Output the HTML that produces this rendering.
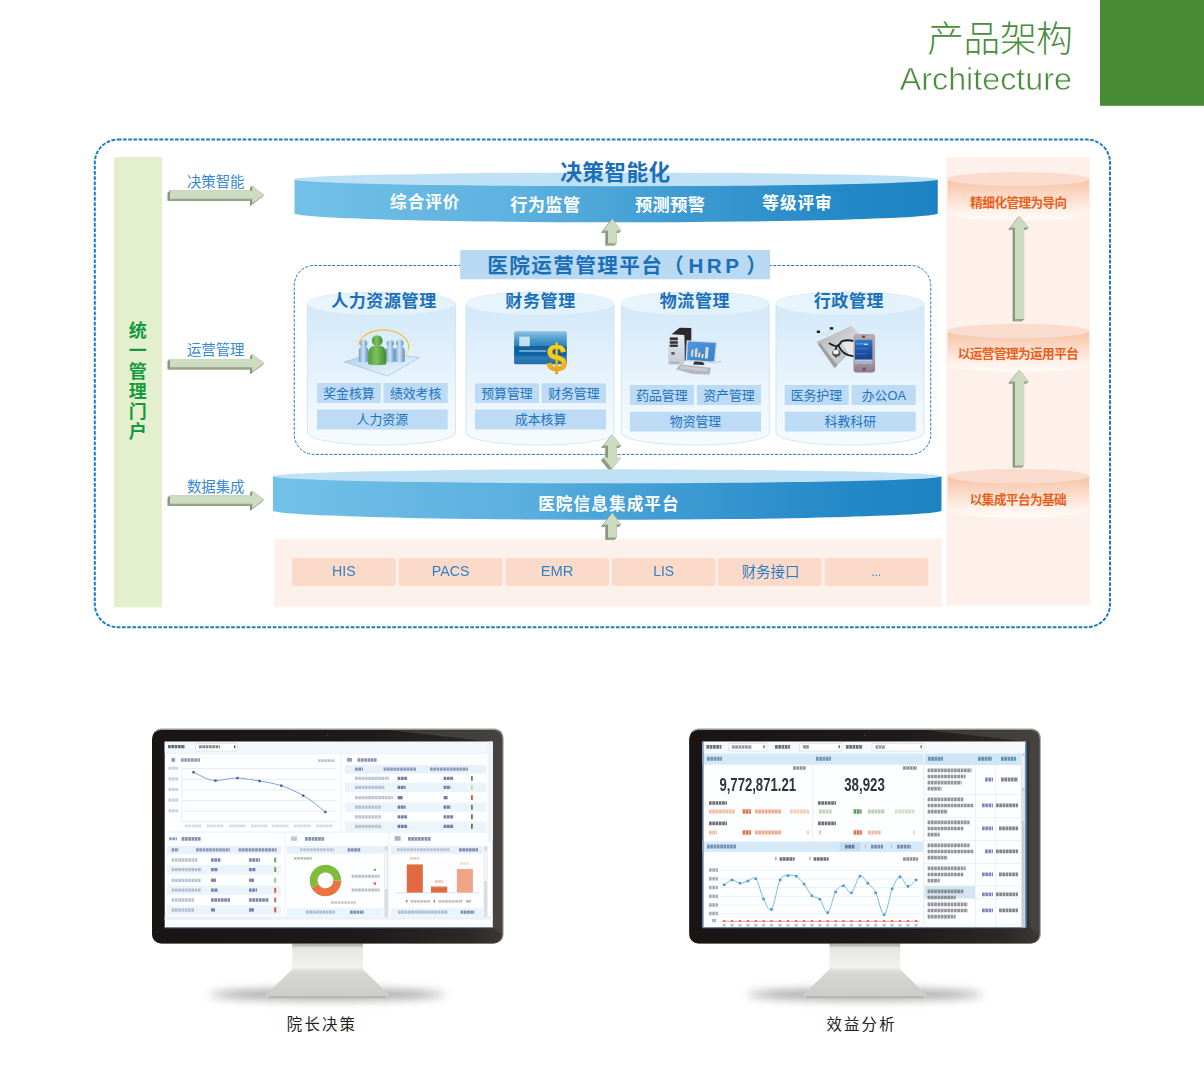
<!DOCTYPE html>
<html lang="zh"><head><meta charset="utf-8"><title>产品架构 Architecture</title>
<style>
html,body{margin:0;padding:0;background:#fff}
body{width:1204px;height:1068px;overflow:hidden;position:relative;font-family:"Liberation Sans",sans-serif}
svg{display:block;position:absolute;left:0;top:0}
svg text.cjk{font-family:"Liberation Sans","Noto Sans CJK SC",sans-serif}
.ov span{position:absolute;color:transparent;white-space:nowrap;line-height:1.2;font-family:"Liberation Sans",sans-serif;pointer-events:none}
</style></head><body>
<svg width="1204" height="1068" viewBox="0 0 1204 1068">
<defs>

<linearGradient id="disc" x1="0" x2="1" y1="0" y2="0">
 <stop offset="0" stop-color="#72c1e8"/><stop offset="0.35" stop-color="#5db1df"/><stop offset="0.6" stop-color="#3d9bd2"/><stop offset="0.85" stop-color="#2489c7"/><stop offset="1" stop-color="#1d82c2"/>
</linearGradient>
<linearGradient id="cyl" x1="0" x2="0" y1="0" y2="1">
 <stop offset="0" stop-color="#d3e9f9"/><stop offset="0.1" stop-color="#d3e9f9"/><stop offset="0.45" stop-color="#e3f1fc"/><stop offset="0.75" stop-color="#eff7fd"/><stop offset="1" stop-color="#f6fbfe"/>
</linearGradient>
<linearGradient id="cyltop" x1="0" x2="1" y1="0" y2="0">
 <stop offset="0" stop-color="#ebf6fd"/><stop offset="0.5" stop-color="#e0f1fb"/><stop offset="1" stop-color="#e6f3fc"/>
</linearGradient>
<linearGradient id="ocyl" x1="0" x2="0" y1="0" y2="1">
 <stop offset="0" stop-color="#f7c2a2"/><stop offset="0.4" stop-color="#fbdac8"/><stop offset="0.8" stop-color="#fff3ec"/><stop offset="1" stop-color="#fffbf9"/>
</linearGradient>
<linearGradient id="arr" x1="0" x2="0" y1="0" y2="1">
 <stop offset="0" stop-color="#d9e4cf"/><stop offset="0.5" stop-color="#cddbc0"/><stop offset="1" stop-color="#c3d3b5"/>
</linearGradient>
<linearGradient id="arrv" x1="0" x2="1" y1="0" y2="0">
 <stop offset="0" stop-color="#c3d3b5"/><stop offset="0.5" stop-color="#cfdcc2"/><stop offset="1" stop-color="#d6e2cb"/>
</linearGradient>


<linearGradient id="tile" x1="0" x2="1" y1="0" y2="1"><stop offset="0" stop-color="#a9cdea"/><stop offset="0.6" stop-color="#d9ebf8"/><stop offset="1" stop-color="#eef6fc"/></linearGradient>
<linearGradient id="pgreen" x1="0" x2="1" y1="0" y2="0"><stop offset="0" stop-color="#4e9a3a"/><stop offset="0.45" stop-color="#7cc35c"/><stop offset="1" stop-color="#3f8a30"/></linearGradient>
<linearGradient id="pblue" x1="0" x2="1" y1="0" y2="0"><stop offset="0" stop-color="#6f9dc8"/><stop offset="0.45" stop-color="#cfe3f4"/><stop offset="1" stop-color="#5f8fbd"/></linearGradient>
<linearGradient id="card" x1="0" x2="0" y1="0" y2="1"><stop offset="0" stop-color="#8cc3e2"/><stop offset="0.25" stop-color="#4c9bcc"/><stop offset="0.44" stop-color="#2d84bd"/><stop offset="0.46" stop-color="#0f639f"/><stop offset="0.72" stop-color="#0f649f"/><stop offset="0.78" stop-color="#2a7db8"/><stop offset="1" stop-color="#256fa9"/></linearGradient>
<linearGradient id="dollar" x1="0" x2="0" y1="0" y2="1"><stop offset="0" stop-color="#f7e022"/><stop offset="0.55" stop-color="#f5c81c"/><stop offset="1" stop-color="#e58a1c"/></linearGradient>
<linearGradient id="tower" x1="0" x2="0" y1="0" y2="1"><stop offset="0" stop-color="#e6e9ee"/><stop offset="1" stop-color="#c4c9d2"/></linearGradient>
<linearGradient id="scr" x1="0" x2="1" y1="0" y2="1"><stop offset="0" stop-color="#4f98df"/><stop offset="1" stop-color="#3380cf"/></linearGradient>
<linearGradient id="clip" x1="0" x2="1" y1="0" y2="1"><stop offset="0" stop-color="#a9abae"/><stop offset="0.5" stop-color="#d2d3d5"/><stop offset="1" stop-color="#9c9ea1"/></linearGradient>
<linearGradient id="pda" x1="0" x2="0" y1="0" y2="1"><stop offset="0" stop-color="#b9a9b0"/><stop offset="0.7" stop-color="#a99aa2"/><stop offset="1" stop-color="#8c7d86"/></linearGradient>
<linearGradient id="pdas" x1="0" x2="0" y1="0" y2="1"><stop offset="0" stop-color="#2d78c8"/><stop offset="0.5" stop-color="#1f55aa"/><stop offset="1" stop-color="#1a3f8c"/></linearGradient>
<filter id="b03" x="-20%" y="-20%" width="140%" height="140%"><feGaussianBlur stdDeviation="0.35"/></filter>
<filter id="b06" x="-20%" y="-20%" width="140%" height="140%"><feGaussianBlur stdDeviation="0.6"/></filter>
<filter id="b5" x="-30%" y="-100%" width="160%" height="300%"><feGaussianBlur stdDeviation="5"/></filter>

<linearGradient id="bezel" x1="0" x2="1" y1="0" y2="0"><stop offset="0" stop-color="#181514"/><stop offset="0.6" stop-color="#1d1a19"/><stop offset="0.9" stop-color="#2b2826"/><stop offset="1" stop-color="#3b3836"/></linearGradient>
<linearGradient id="stand" x1="0" x2="0" y1="0" y2="1"><stop offset="0" stop-color="#c9c9c6"/><stop offset="0.12" stop-color="#e6e6e3"/><stop offset="0.45" stop-color="#f1f1ee"/><stop offset="0.5" stop-color="#dededa"/><stop offset="1" stop-color="#d2d2ce"/></linearGradient>
<linearGradient id="base" x1="0" x2="0" y1="0" y2="1"><stop offset="0" stop-color="#e0e0dc"/><stop offset="0.15" stop-color="#d6d6d2"/><stop offset="1" stop-color="#cbcbc7"/></linearGradient>

</defs>
<rect x="1100" y="0" width="104" height="105.8" fill="#478b37"/>
<text class="cjk" x="927.14" y="52.42" font-size="36.6" letter-spacing="-0.18" font-weight="300" fill="#4a8d3c">产品架构</text>
<text x="1071.9" y="90.2" font-size="32.25" opacity="0.999" text-anchor="end" stroke="#fff" stroke-width="0.55" fill="#4a8d3c" font-family="Liberation Sans, sans-serif">Architecture</text>
<rect x="94.8" y="139.6" width="1015.2" height="487.6" rx="23" fill="none" stroke="#1c7cc4" stroke-width="2" stroke-dasharray="3.7 1.5"/>
<rect x="114" y="157" width="48" height="450.3" fill="#e4efcd"/>
<text class="cjk" x="128.70" y="337.26" font-size="18" font-weight="bold" fill="#139a40">统</text>
<text class="cjk" x="128.70" y="357.46" font-size="18" font-weight="bold" fill="#139a40">一</text>
<text class="cjk" x="128.70" y="377.66" font-size="18" font-weight="bold" fill="#139a40">管</text>
<text class="cjk" x="128.70" y="397.86" font-size="18" font-weight="bold" fill="#139a40">理</text>
<text class="cjk" x="128.70" y="418.06" font-size="18" font-weight="bold" fill="#139a40">门</text>
<text class="cjk" x="128.70" y="438.26" font-size="18" font-weight="bold" fill="#139a40">户</text>
<polygon points="167.70,192.90 250.00,192.90 250.00,188.10 262.00,197.00 250.00,205.90 250.00,201.10 167.70,201.10" fill="#8f9d82"/><polygon points="169.90,190.60 252.20,190.60 250.00,192.90 167.70,192.90" fill="#97a58a"/><polygon points="252.20,190.60 252.20,185.80 250.00,188.10 250.00,192.90" fill="#87937a"/><polygon points="252.20,185.80 264.20,194.70 262.00,197.00 250.00,188.10" fill="#8f9d82"/><polygon points="264.20,194.70 252.20,203.60 250.00,205.90 262.00,197.00" fill="#8f9d82"/><polygon points="252.20,203.60 252.20,198.80 250.00,201.10 250.00,205.90" fill="#87937a"/><polygon points="252.20,198.80 169.90,198.80 167.70,201.10 250.00,201.10" fill="#97a58a"/><polygon points="169.90,198.80 169.90,190.60 167.70,192.90 167.70,201.10" fill="#87937a"/><polygon points="169.90,190.60 252.20,190.60 252.20,185.80 264.20,194.70 252.20,203.60 252.20,198.80 169.90,198.80" fill="#cddcc0"/>
<text class="cjk" x="186.89" y="186.62" font-size="14.4" fill="#3489cf">决策智能</text>
<polygon points="167.70,361.30 250.00,361.30 250.00,356.50 262.00,365.40 250.00,374.30 250.00,369.50 167.70,369.50" fill="#8f9d82"/><polygon points="169.90,359.00 252.20,359.00 250.00,361.30 167.70,361.30" fill="#97a58a"/><polygon points="252.20,359.00 252.20,354.20 250.00,356.50 250.00,361.30" fill="#87937a"/><polygon points="252.20,354.20 264.20,363.10 262.00,365.40 250.00,356.50" fill="#8f9d82"/><polygon points="264.20,363.10 252.20,372.00 250.00,374.30 262.00,365.40" fill="#8f9d82"/><polygon points="252.20,372.00 252.20,367.20 250.00,369.50 250.00,374.30" fill="#87937a"/><polygon points="252.20,367.20 169.90,367.20 167.70,369.50 250.00,369.50" fill="#97a58a"/><polygon points="169.90,367.20 169.90,359.00 167.70,361.30 167.70,369.50" fill="#87937a"/><polygon points="169.90,359.00 252.20,359.00 252.20,354.20 264.20,363.10 252.20,372.00 252.20,367.20 169.90,367.20" fill="#cddcc0"/>
<text class="cjk" x="186.89" y="355.02" font-size="14.4" fill="#3489cf">运营管理</text>
<polygon points="167.70,497.80 250.00,497.80 250.00,493.00 262.00,501.90 250.00,510.80 250.00,506.00 167.70,506.00" fill="#8f9d82"/><polygon points="169.90,495.50 252.20,495.50 250.00,497.80 167.70,497.80" fill="#97a58a"/><polygon points="252.20,495.50 252.20,490.70 250.00,493.00 250.00,497.80" fill="#87937a"/><polygon points="252.20,490.70 264.20,499.60 262.00,501.90 250.00,493.00" fill="#8f9d82"/><polygon points="264.20,499.60 252.20,508.50 250.00,510.80 262.00,501.90" fill="#8f9d82"/><polygon points="252.20,508.50 252.20,503.70 250.00,506.00 250.00,510.80" fill="#87937a"/><polygon points="252.20,503.70 169.90,503.70 167.70,506.00 250.00,506.00" fill="#97a58a"/><polygon points="169.90,503.70 169.90,495.50 167.70,497.80 167.70,506.00" fill="#87937a"/><polygon points="169.90,495.50 252.20,495.50 252.20,490.70 264.20,499.60 252.20,508.50 252.20,503.70 169.90,503.70" fill="#cddcc0"/>
<text class="cjk" x="186.93" y="491.52" font-size="14.4" fill="#3489cf">数据集成</text>
<rect x="946" y="157" width="144.3" height="448.6" fill="#fef1eb"/>
<rect x="274.3" y="539" width="667.7" height="67.8" fill="#fef1eb"/>
<path d="M294.50,179.40 L294.50,213.20 A321.62,9.10 0 0 0 937.75,213.20 L937.75,179.40 Z" fill="url(#disc)"/>
<ellipse cx="616.12" cy="179.40" rx="321.62" ry="6.80" fill="#bee1f5"/>
<text class="cjk" x="560.14" y="180.27" font-size="21.6" letter-spacing="0.5" font-weight="bold" fill="#1b6fb9">决策智能化</text>
<text class="cjk" x="390.09" y="208.16" font-size="16.6" letter-spacing="1" font-weight="bold" fill="#fff">综合评价</text>
<text class="cjk" x="510.18" y="210.79" font-size="17.2" letter-spacing="0.4" font-weight="bold" fill="#fff">行为监管</text>
<text class="cjk" x="634.99" y="210.79" font-size="17.2" letter-spacing="0.4" font-weight="bold" fill="#fff">预测预警</text>
<text class="cjk" x="762.35" y="208.56" font-size="16.6" letter-spacing="1" font-weight="bold" fill="#fff">等级评审</text>
<rect x="294.25" y="265.5" width="636.5" height="188.9" rx="20" fill="none" stroke="#1c7cc4" stroke-width="1" stroke-dasharray="3 1.5"/>
<polygon points="609.90,221.30 618.80,232.90 614.25,232.90 614.25,245.60 605.55,245.60 605.55,232.90 601.00,232.90" fill="#8f9d82"/><polygon points="612.30,218.90 621.20,230.50 618.80,232.90 609.90,221.30" fill="#8f9d82"/><polygon points="621.20,230.50 616.65,230.50 614.25,232.90 618.80,232.90" fill="#97a58a"/><polygon points="616.65,230.50 616.65,243.20 614.25,245.60 614.25,232.90" fill="#87937a"/><polygon points="616.65,243.20 607.95,243.20 605.55,245.60 614.25,245.60" fill="#97a58a"/><polygon points="607.95,243.20 607.95,230.50 605.55,232.90 605.55,245.60" fill="#87937a"/><polygon points="607.95,230.50 603.40,230.50 601.00,232.90 605.55,232.90" fill="#97a58a"/><polygon points="603.40,230.50 612.30,218.90 609.90,221.30 601.00,232.90" fill="#8f9d82"/><polygon points="612.30,218.90 621.20,230.50 616.65,230.50 616.65,243.20 607.95,243.20 607.95,230.50 603.40,230.50" fill="#cddcc0"/>
<rect x="460.25" y="250" width="309.75" height="29.25" fill="#b9d9f2"/>
<text class="cjk" x="487.35" y="272.99" font-size="20.6" letter-spacing="1.4" font-weight="bold" fill="#1b6fb9">医院运营管理平台（</text>
<text class="cjk" x="688.43" y="272.99" font-size="20.6" letter-spacing="3.5" font-weight="bold" fill="#1b6fb9">HRP</text>
<text class="cjk" x="746.27" y="272.99" font-size="20.6" font-weight="bold" fill="#1b6fb9">）</text>
<path d="M307.50,303.50 L307.50,433.00 A74.00,12.00 0 0 0 455.50,433.00 L455.50,303.50 A74.00,11.50 0 0 0 307.50,303.50 Z" fill="url(#cyl)" stroke="#cfe4f5" stroke-width="0.9"/>
<ellipse cx="381.50" cy="303.50" rx="74.00" ry="11.50" fill="url(#cyltop)"/>
<text class="cjk" x="331.17" y="307.01" font-size="17" letter-spacing="0.6" font-weight="bold" fill="#1b6fb9">人力资源管理</text>
<rect x="317.00" y="383.00" width="63.75" height="20.00" fill="#bddbf4"/>
<text class="cjk" x="323.23" y="397.57" font-size="12.85" fill="#1f74bd">奖金核算</text>
<rect x="383.50" y="383.00" width="64.25" height="20.00" fill="#bddbf4"/>
<text class="cjk" x="389.93" y="397.57" font-size="12.85" fill="#1f74bd">绩效考核</text>
<rect x="317.00" y="409.50" width="130.75" height="20.00" fill="#bddbf4"/>
<text class="cjk" x="356.60" y="424.07" font-size="12.85" fill="#1f74bd">人力资源</text>
<path d="M466.00,303.50 L466.00,433.00 A74.00,12.00 0 0 0 614.00,433.00 L614.00,303.50 A74.00,11.50 0 0 0 466.00,303.50 Z" fill="url(#cyl)" stroke="#cfe4f5" stroke-width="0.9"/>
<ellipse cx="540.00" cy="303.50" rx="74.00" ry="11.50" fill="url(#cyltop)"/>
<text class="cjk" x="505.35" y="307.01" font-size="17" letter-spacing="0.6" font-weight="bold" fill="#1b6fb9">财务管理</text>
<rect x="475.00" y="383.25" width="64.00" height="19.75" fill="#bddbf4"/>
<text class="cjk" x="481.28" y="397.70" font-size="12.85" fill="#1f74bd">预算管理</text>
<rect x="541.75" y="383.25" width="64.25" height="19.75" fill="#bddbf4"/>
<text class="cjk" x="548.18" y="397.70" font-size="12.85" fill="#1f74bd">财务管理</text>
<rect x="475.00" y="409.50" width="131.00" height="20.00" fill="#bddbf4"/>
<text class="cjk" x="514.92" y="424.07" font-size="12.85" fill="#1f74bd">成本核算</text>
<path d="M621.25,303.50 L621.25,433.00 A74.00,12.00 0 0 0 769.25,433.00 L769.25,303.50 A74.00,11.50 0 0 0 621.25,303.50 Z" fill="url(#cyl)" stroke="#cfe4f5" stroke-width="0.9"/>
<ellipse cx="695.25" cy="303.50" rx="74.00" ry="11.50" fill="url(#cyltop)"/>
<text class="cjk" x="659.77" y="307.01" font-size="17" letter-spacing="0.6" font-weight="bold" fill="#1b6fb9">物流管理</text>
<rect x="630.00" y="385.00" width="64.00" height="20.00" fill="#bddbf4"/>
<text class="cjk" x="636.18" y="399.57" font-size="12.85" fill="#1f74bd">药品管理</text>
<rect x="697.00" y="385.00" width="64.00" height="20.00" fill="#bddbf4"/>
<text class="cjk" x="703.22" y="399.57" font-size="12.85" fill="#1f74bd">资产管理</text>
<rect x="630.00" y="411.75" width="131.00" height="19.75" fill="#bddbf4"/>
<text class="cjk" x="669.84" y="426.20" font-size="12.85" fill="#1f74bd">物资管理</text>
<path d="M776.00,303.50 L776.00,433.00 A74.00,12.00 0 0 0 924.00,433.00 L924.00,303.50 A74.00,11.50 0 0 0 776.00,303.50 Z" fill="url(#cyl)" stroke="#cfe4f5" stroke-width="0.9"/>
<ellipse cx="850.00" cy="303.50" rx="74.00" ry="11.50" fill="url(#cyltop)"/>
<text class="cjk" x="813.78" y="307.01" font-size="17" letter-spacing="0.6" font-weight="bold" fill="#1b6fb9">行政管理</text>
<rect x="784.75" y="385.00" width="64.00" height="20.00" fill="#bddbf4"/>
<text class="cjk" x="790.68" y="399.57" font-size="12.85" fill="#1f74bd">医务护理</text>
<rect x="851.50" y="385.00" width="64.25" height="20.00" fill="#bddbf4"/>
<text class="cjk" x="861.72" y="399.57" font-size="12.85" fill="#1f74bd">办公OA</text>
<rect x="784.75" y="411.75" width="131.00" height="19.75" fill="#bddbf4"/>
<text class="cjk" x="824.62" y="426.20" font-size="12.85" fill="#1f74bd">科教科研</text>
<g filter="url(#b03)"><polygon points="344.6,362 374,352.6 419.4,357.6 387.4,376" fill="url(#tile)" stroke="#8db9de" stroke-width="0.6"/><path d="M358.4,345 A25.2,17 0 0 1 408.6,349" fill="none" stroke="#f0c437" stroke-width="1.2"/><path d="M408.6,349 A25.2,17 0 0 1 404.6,356.5" fill="none" stroke="#f3d678" stroke-width="1"/><path d="M358.8,361.5 L358.8,350.9 C358.8,347.8 360.7,346.6 363.6,346.6 C366.5,346.6 368.4,347.8 368.4,350.9 L368.4,361.5 Q363.6,363.7 358.8,361.5 Z" fill="url(#pblue)"/><circle cx="363.6" cy="343.4" r="3.7" fill="url(#pblue)"/><path d="M385.5,361.5 L385.5,351.1 C385.5,348.0 387.4,346.8 390.3,346.8 C393.2,346.8 395.1,348.0 395.1,351.1 L395.1,361.5 Q390.3,363.7 385.5,361.5 Z" fill="url(#pblue)"/><circle cx="390.3" cy="343.6" r="3.7" fill="url(#pblue)"/><path d="M394.8,361.5 L394.8,351.1 C394.8,347.9 396.8,346.6 399.8,346.6 C402.8,346.6 404.8,347.9 404.8,351.1 L404.8,361.5 Q399.8,363.7 394.8,361.5 Z" fill="url(#pblue)"/><circle cx="399.8" cy="343.2" r="3.8" fill="url(#pblue)"/><path d="M368.2,364.2 L368.2,353.5 C368.2,347.6 371.8,345.4 377.2,345.4 C382.6,345.4 386.2,347.6 386.2,353.5 L386.2,364.2 Q377.2,366.4 368.2,364.2 Z" fill="url(#pgreen)"/><circle cx="377.2" cy="340.6" r="5.4" fill="url(#pgreen)"/><rect x="514.1" y="331.3" width="52.7" height="32.9" rx="1.5" fill="url(#card)"/><rect x="519.2" y="336.6" width="10.6" height="9.6" fill="#cfe9f5" opacity="0.9"/><rect x="519.2" y="350.2" width="27" height="1.6" fill="#9fcbe6" opacity="0.8"/><text opacity="0.999" x="556.6" y="370.6" font-size="38" font-weight="bold" text-anchor="middle" fill="url(#dollar)" stroke="#d9901a" stroke-width="0.4" font-family="Liberation Sans, sans-serif" transform="translate(556.6 0) scale(0.98 1) translate(-556.6 0)">$</text><polygon points="671.6,334.2 679.6,327.8 691.3,328 691.3,345.5 684.5,346 684.2,335" fill="#2b2b2d"/><polygon points="668,335.2 684.2,335 684.3,364.6 668.3,364.4" fill="url(#tower)"/><rect x="669.8" y="337.4" width="8" height="2.9" fill="#2e3034"/><rect x="669.8" y="341.2" width="8" height="2.6" fill="#33363a"/><rect x="669.8" y="344.6" width="8" height="2.3" fill="#2e3034"/><rect x="671.3" y="352" width="3.4" height="2.8" fill="#59606a"/><rect x="669.6" y="361.8" width="10" height="1.8" fill="#aab0bb"/><polygon points="684.6,346 691,343 691,358 684.6,361" fill="#3c3f44"/><polygon points="686.6,340.2 717.4,341.8 715.2,363.4 685.6,361.2" fill="#cfd6de"/><polygon points="687.9,341.6 715.8,343 713.9,361.6 687.1,359.8" fill="url(#scr)"/><polygon points="691.7,349.6 693.7,349.8 692.8,356.8 690.8,356.6" fill="#e4dcc6"/><polygon points="695.4,348.3 697.7,348.5 696.8,357.0 694.5,356.8" fill="#e4dcc6"/><polygon points="698.7,352.6 700.7,352.8 699.8,357.5 697.8,357.3" fill="#e4dcc6"/><polygon points="702.0,354.0 704.0,354.2 703.1,358.2 701.1,358.0" fill="#e4dcc6"/><polygon points="705.7,347.0 708.7,347.2 707.8,358.6 704.8,358.4" fill="#e4dcc6"/><polygon points="694.6,361.6 703,362 704.6,365 693,364.6" fill="#2f3033"/><polygon points="675.8,369.2 680.4,364.6 711,367.8 709.6,374.6 692.2,373.9" fill="#b3b7bc"/><polygon points="679,368.6 681.6,366 708,368.8 707.4,371.6" fill="#c9cdd2"/><polygon points="712,361 722,360.4 722,362.4 712,363.4" fill="#d4dae2" opacity="0.8"/><polygon points="816.6,342 851.5,326 864,338 834.6,368" fill="url(#clip)"/><polygon points="818,344.6 834.6,368 837.5,365.5 820,342.8" fill="#9c9ea1"/><polygon points="842,342.6 856,341.2 856,356 849,355" fill="#e9e9ea"/><path d="M829.5,343.5 C835,347 838,347.6 841.5,341.5 M841.5,341.5 C845,340 850,340.2 853,340.8 M838.6,345.8 C841,352 846,355.4 853,356.2 M836.6,347 C835,350 834.6,353 836,356.6" fill="none" stroke="#1d1d1f" stroke-width="1.8" stroke-linecap="round"/><ellipse cx="836.4" cy="353" rx="4.2" ry="3.6" fill="#505357"/><ellipse cx="836" cy="352" rx="2.8" ry="2.2" fill="#f2f2f2"/><rect x="816.8" y="330.6" width="3.2" height="2.4" fill="#1d1d1f"/><rect x="829.8" y="327.2" width="3.4" height="2.4" fill="#1d1d1f"/><path d="M820,332.4 L826,335.6 M831,329.6 L827,336" stroke="#d0d0d2" stroke-width="0.7" fill="none"/><rect x="853.5" y="334" width="21.6" height="38.5" rx="2.4" fill="url(#pda)"/><rect x="855" y="339.8" width="17.4" height="20.4" fill="url(#pdas)"/><rect x="855" y="360.4" width="17.4" height="3.4" fill="#9fb4cf"/><rect x="855" y="359.6" width="17.4" height="0.9" fill="#e8eef6"/><rect x="856.2" y="343" width="9" height="1.5" fill="#5aa0e0" opacity="0.8"/><rect x="864" y="343.6" width="4" height="1.4" fill="#bfe0f8"/><rect x="856.2" y="348" width="12" height="1.4" fill="#3d7fd0" opacity="0.7"/><rect x="856.2" y="353" width="10" height="1.4" fill="#3d7fd0" opacity="0.6"/><rect x="862.4" y="367.6" width="3.6" height="3.4" rx="1" fill="#6d5f68"/><rect x="862" y="335.6" width="3" height="2.4" fill="#5f525a"/></g>
<polygon points="609.90,436.90 618.80,448.00 614.25,448.00 614.25,460.20 618.80,460.20 609.90,471.30 601.00,460.20 605.55,460.20 605.55,448.00 601.00,448.00" fill="#8f9d82"/><polygon points="612.30,434.50 621.20,445.60 618.80,448.00 609.90,436.90" fill="#8f9d82"/><polygon points="621.20,445.60 616.65,445.60 614.25,448.00 618.80,448.00" fill="#97a58a"/><polygon points="616.65,445.60 616.65,457.80 614.25,460.20 614.25,448.00" fill="#87937a"/><polygon points="616.65,457.80 621.20,457.80 618.80,460.20 614.25,460.20" fill="#97a58a"/><polygon points="621.20,457.80 612.30,468.90 609.90,471.30 618.80,460.20" fill="#8f9d82"/><polygon points="612.30,468.90 603.40,457.80 601.00,460.20 609.90,471.30" fill="#8f9d82"/><polygon points="603.40,457.80 607.95,457.80 605.55,460.20 601.00,460.20" fill="#97a58a"/><polygon points="607.95,457.80 607.95,445.60 605.55,448.00 605.55,460.20" fill="#87937a"/><polygon points="607.95,445.60 603.40,445.60 601.00,448.00 605.55,448.00" fill="#97a58a"/><polygon points="603.40,445.60 612.30,434.50 609.90,436.90 601.00,448.00" fill="#8f9d82"/><polygon points="612.30,434.50 621.20,445.60 616.65,445.60 616.65,457.80 621.20,457.80 612.30,468.90 603.40,457.80 607.95,457.80 607.95,445.60 603.40,445.60" fill="#cddcc0"/>
<path d="M273.00,476.30 L273.00,510.50 A334.25,9.20 0 0 0 941.50,510.50 L941.50,476.30 Z" fill="url(#disc)"/>
<ellipse cx="607.25" cy="476.30" rx="334.25" ry="7.00" fill="#bee1f5"/>
<text class="cjk" x="538.18" y="510.16" font-size="16.6" letter-spacing="1.1" font-weight="bold" fill="#fff">医院信息集成平台</text>
<polygon points="609.90,515.40 618.80,527.00 614.25,527.00 614.25,540.00 605.55,540.00 605.55,527.00 601.00,527.00" fill="#8f9d82"/><polygon points="612.30,513.00 621.20,524.60 618.80,527.00 609.90,515.40" fill="#8f9d82"/><polygon points="621.20,524.60 616.65,524.60 614.25,527.00 618.80,527.00" fill="#97a58a"/><polygon points="616.65,524.60 616.65,537.60 614.25,540.00 614.25,527.00" fill="#87937a"/><polygon points="616.65,537.60 607.95,537.60 605.55,540.00 614.25,540.00" fill="#97a58a"/><polygon points="607.95,537.60 607.95,524.60 605.55,527.00 605.55,540.00" fill="#87937a"/><polygon points="607.95,524.60 603.40,524.60 601.00,527.00 605.55,527.00" fill="#97a58a"/><polygon points="603.40,524.60 612.30,513.00 609.90,515.40 601.00,527.00" fill="#8f9d82"/><polygon points="612.30,513.00 621.20,524.60 616.65,524.60 616.65,537.60 607.95,537.60 607.95,524.60 603.40,524.60" fill="#cddcc0"/>
<rect x="292.00" y="558" width="103.75" height="28" rx="2.5" fill="#fcdaca"/>
<text opacity="0.999" x="332.07" y="576.1" font-size="14.8" textLength="23.6" lengthAdjust="spacingAndGlyphs" fill="#2f82c6" font-family="Liberation Sans, sans-serif">HIS</text>
<rect x="398.75" y="558" width="103.75" height="28" rx="2.5" fill="#fcdaca"/>
<text opacity="0.999" x="431.73" y="576.1" font-size="14.8" textLength="37.8" lengthAdjust="spacingAndGlyphs" fill="#2f82c6" font-family="Liberation Sans, sans-serif">PACS</text>
<rect x="505.25" y="558" width="103.75" height="28" rx="2.5" fill="#fcdaca"/>
<text opacity="0.999" x="540.73" y="576.1" font-size="14.8" textLength="32.8" lengthAdjust="spacingAndGlyphs" fill="#2f82c6" font-family="Liberation Sans, sans-serif">EMR</text>
<rect x="611.75" y="558" width="103.75" height="28" rx="2.5" fill="#fcdaca"/>
<text opacity="0.999" x="653.23" y="576.1" font-size="14.8" textLength="20.8" lengthAdjust="spacingAndGlyphs" fill="#2f82c6" font-family="Liberation Sans, sans-serif">LIS</text>
<rect x="718.00" y="558" width="103.75" height="28" rx="2.5" fill="#fcdaca"/>
<text class="cjk" x="741.72" y="576.82" font-size="14.4" fill="#2b7fc3">财务接口</text>
<rect x="824.50" y="558" width="103.75" height="28" rx="2.5" fill="#fcdaca"/>
<text opacity="0.999" x="871.62" y="576.1" font-size="14.8" textLength="9.5" lengthAdjust="spacingAndGlyphs" fill="#2f82c6" font-family="Liberation Sans, sans-serif">...</text>
<path d="M947.75,179.00 L947.75,213.50 A70.62,7.00 0 0 0 1089.00,213.50 L1089.00,179.00 Z" fill="url(#ocyl)"/>
<ellipse cx="1018.38" cy="179.00" rx="70.62" ry="7.00" fill="#f9dccd"/>
<text class="cjk" x="970.31" y="206.93" font-size="12.6" letter-spacing="-0.55" font-weight="bold" fill="#e9601c">精细化管理为导向</text>
<path d="M947.75,331.00 L947.75,365.00 A70.62,7.00 0 0 0 1089.00,365.00 L1089.00,331.00 Z" fill="url(#ocyl)"/>
<ellipse cx="1018.38" cy="331.00" rx="70.62" ry="7.20" fill="#f9dccd"/>
<text class="cjk" x="957.79" y="357.73" font-size="12.6" letter-spacing="-0.55" font-weight="bold" fill="#e9601c">以运营管理为运用平台</text>
<path d="M947.75,476.00 L947.75,510.00 A70.62,7.50 0 0 0 1089.00,510.00 L1089.00,476.00 Z" fill="url(#ocyl)"/>
<ellipse cx="1018.38" cy="476.00" rx="70.62" ry="7.30" fill="#f9dccd"/>
<text class="cjk" x="969.82" y="503.83" font-size="12.6" letter-spacing="-0.55" font-weight="bold" fill="#e9601c">以集成平台为基础</text>
<polygon points="1017.40,218.10 1026.50,229.70 1022.00,229.70 1022.00,321.20 1012.80,321.20 1012.80,229.70 1008.30,229.70" fill="#8f9d82"/><polygon points="1019.50,216.00 1028.60,227.60 1026.50,229.70 1017.40,218.10" fill="#8f9d82"/><polygon points="1028.60,227.60 1024.10,227.60 1022.00,229.70 1026.50,229.70" fill="#97a58a"/><polygon points="1024.10,227.60 1024.10,319.10 1022.00,321.20 1022.00,229.70" fill="#87937a"/><polygon points="1024.10,319.10 1014.90,319.10 1012.80,321.20 1022.00,321.20" fill="#97a58a"/><polygon points="1014.90,319.10 1014.90,227.60 1012.80,229.70 1012.80,321.20" fill="#87937a"/><polygon points="1014.90,227.60 1010.40,227.60 1008.30,229.70 1012.80,229.70" fill="#97a58a"/><polygon points="1010.40,227.60 1019.50,216.00 1017.40,218.10 1008.30,229.70" fill="#8f9d82"/><polygon points="1019.50,216.00 1028.60,227.60 1024.10,227.60 1024.10,319.10 1014.90,319.10 1014.90,227.60 1010.40,227.60" fill="#cddcc0"/>
<polygon points="1017.40,371.90 1026.50,383.50 1022.00,383.50 1022.00,467.50 1012.80,467.50 1012.80,383.50 1008.30,383.50" fill="#8f9d82"/><polygon points="1019.50,369.80 1028.60,381.40 1026.50,383.50 1017.40,371.90" fill="#8f9d82"/><polygon points="1028.60,381.40 1024.10,381.40 1022.00,383.50 1026.50,383.50" fill="#97a58a"/><polygon points="1024.10,381.40 1024.10,465.40 1022.00,467.50 1022.00,383.50" fill="#87937a"/><polygon points="1024.10,465.40 1014.90,465.40 1012.80,467.50 1022.00,467.50" fill="#97a58a"/><polygon points="1014.90,465.40 1014.90,381.40 1012.80,383.50 1012.80,467.50" fill="#87937a"/><polygon points="1014.90,381.40 1010.40,381.40 1008.30,383.50 1012.80,383.50" fill="#97a58a"/><polygon points="1010.40,381.40 1019.50,369.80 1017.40,371.90 1008.30,383.50" fill="#8f9d82"/><polygon points="1019.50,369.80 1028.60,381.40 1024.10,381.40 1024.10,465.40 1014.90,465.40 1014.90,381.40 1010.40,381.40" fill="#cddcc0"/>
<ellipse cx="327.6" cy="994.5" rx="118" ry="5.5" fill="#888" opacity="0.8" filter="url(#b5)"/><path d="M292.2,942 L363.0,942 L363.0,969.5 L388.6,994.5 Q389.6,998.6 385.6,998.6 L269.6,998.6 Q265.6,998.6 266.6,994.5 L292.2,969.5 Z" fill="url(#stand)"/><path d="M292.2,969.5 L363.0,969.5 L388.6,994.5 Q389.6,998.6 385.6,998.6 L269.6,998.6 Q265.6,998.6 266.6,994.5 Z" fill="url(#base)"/><rect x="292.2" y="943" width="70.8" height="3.4" fill="#9d9d9a" opacity="0.55"/><rect x="268.6" y="996.4" width="118" height="1.6" fill="#a9a9a5" opacity="0.8"/><rect x="152.3" y="728.5" width="351.3" height="214.9" rx="9" fill="#9a9a97"/><rect x="152.0" y="729.9" width="350.3" height="213.5" rx="9" fill="url(#bezel)"/><path d="M390.0,730.3 L493.8,730.3 Q502.3,730.3 502.3,738.5 L502.3,934.4 L492.3,927.4 L492.3,741.7 Z" fill="#4a4744" opacity="0.75"/><rect x="164.7" y="741.7" width="328.1" height="186.4" fill="#fdfeff"/><rect x="164.7" y="927.4" width="328.1" height="1.2" fill="#1d3557"/><circle cx="327.6" cy="735.2" r="0.9" fill="#3a3a3a"/><g filter="url(#b03)"><rect x="164.7" y="741.7" width="328.1" height="11" fill="#f3f8fd"/><line x1="168.0" y1="746.60" x2="185.0" y2="746.60" stroke="#3b3f4a" stroke-width="3.3" stroke-dasharray="2.7 0.6" opacity="0.78"/><rect x="195.6" y="743.6" width="42" height="7.4" rx="1" fill="#fff" stroke="#c9cfd8" stroke-width="0.5"/><line x1="199.0" y1="746.70" x2="220.0" y2="746.70" stroke="#4a4f5a" stroke-width="3.1" stroke-dasharray="2.7 0.6" opacity="0.68"/><rect x="234.0" y="745.5" width="1.4" height="2.5" fill="#333" opacity="0.88"/><rect x="164.7" y="752.8" width="328.1" height="0.8" fill="#e3ebf5"/><rect x="171.5" y="757.9" width="3.6" height="3.9" fill="#60708f" opacity="0.68"/><line x1="181.0" y1="759.90" x2="200.0" y2="759.90" stroke="#50608a" stroke-width="3.5" stroke-dasharray="2.7 0.6" opacity="0.63"/><line x1="318.0" y1="760.60" x2="335.0" y2="760.60" stroke="#8a94a8" stroke-width="2.9" stroke-dasharray="2.7 0.6" opacity="0.53"/><rect x="182" y="768.3" width="155" height="0.7" fill="#dfe5ee"/><line x1="168.6" y1="768.20" x2="178.6" y2="768.20" stroke="#9aa7c0" stroke-width="3.1" stroke-dasharray="2.7 0.6" opacity="0.53"/><rect x="182" y="779.0" width="155" height="0.7" fill="#dfe5ee"/><line x1="168.6" y1="778.90" x2="178.6" y2="778.90" stroke="#9aa7c0" stroke-width="3.1" stroke-dasharray="2.7 0.6" opacity="0.53"/><rect x="182" y="789.6" width="155" height="0.7" fill="#dfe5ee"/><line x1="168.6" y1="789.50" x2="178.6" y2="789.50" stroke="#9aa7c0" stroke-width="3.1" stroke-dasharray="2.7 0.6" opacity="0.53"/><rect x="182" y="800.2" width="155" height="0.7" fill="#dfe5ee"/><line x1="168.6" y1="800.10" x2="178.6" y2="800.10" stroke="#9aa7c0" stroke-width="3.1" stroke-dasharray="2.7 0.6" opacity="0.53"/><rect x="182" y="810.8" width="155" height="0.7" fill="#dfe5ee"/><line x1="168.6" y1="810.70" x2="178.6" y2="810.70" stroke="#9aa7c0" stroke-width="3.1" stroke-dasharray="2.7 0.6" opacity="0.53"/><rect x="182" y="821.2" width="155" height="0.7" fill="#dfe5ee"/><rect x="181.6" y="767" width="0.7" height="55" fill="#dfe5ee"/><line x1="185.0" y1="825.90" x2="202.0" y2="825.90" stroke="#a9b3c6" stroke-width="2.7" stroke-dasharray="2.7 0.6" opacity="0.48"/><line x1="207.0" y1="825.90" x2="224.0" y2="825.90" stroke="#a9b3c6" stroke-width="2.7" stroke-dasharray="2.7 0.6" opacity="0.48"/><line x1="229.0" y1="825.90" x2="246.0" y2="825.90" stroke="#a9b3c6" stroke-width="2.7" stroke-dasharray="2.7 0.6" opacity="0.48"/><line x1="251.0" y1="825.90" x2="268.0" y2="825.90" stroke="#a9b3c6" stroke-width="2.7" stroke-dasharray="2.7 0.6" opacity="0.48"/><line x1="272.0" y1="825.90" x2="289.0" y2="825.90" stroke="#a9b3c6" stroke-width="2.7" stroke-dasharray="2.7 0.6" opacity="0.48"/><line x1="294.0" y1="825.90" x2="311.0" y2="825.90" stroke="#a9b3c6" stroke-width="2.7" stroke-dasharray="2.7 0.6" opacity="0.48"/><line x1="316.0" y1="825.90" x2="333.0" y2="825.90" stroke="#a9b3c6" stroke-width="2.7" stroke-dasharray="2.7 0.6" opacity="0.48"/><path d="M193.5,772.3 C200,775 208,780.5 215.5,780.6 C223,780.7 230,777.6 237.5,778 C245,778.4 252,779.8 259.5,781 C267,782.2 274,783.4 281.2,785.6 C289,788 296,791.6 303.2,795.6 C311,800 318,806 325.4,812" fill="none" stroke="#7ba6dc" stroke-width="1"/><rect x="192.3" y="771.1" width="2.3" height="2.3" fill="#42588f"/><rect x="214.3" y="779.5" width="2.3" height="2.3" fill="#42588f"/><rect x="236.3" y="776.9" width="2.3" height="2.3" fill="#42588f"/><rect x="258.4" y="779.9" width="2.3" height="2.3" fill="#42588f"/><rect x="280.1" y="784.5" width="2.3" height="2.3" fill="#42588f"/><rect x="302.1" y="794.5" width="2.3" height="2.3" fill="#42588f"/><rect x="324.2" y="810.9" width="2.3" height="2.3" fill="#42588f"/><rect x="340.6" y="754" width="0.8" height="78" fill="#e6edf6"/><rect x="347.0" y="757.9" width="5.0" height="3.9" fill="#60708f" opacity="0.63"/><line x1="357.6" y1="759.90" x2="376.6" y2="759.90" stroke="#50608a" stroke-width="3.5" stroke-dasharray="2.7 0.6" opacity="0.68"/><rect x="345" y="765" width="141" height="8.6" fill="#e8f1fa"/><line x1="355.0" y1="769.20" x2="363.0" y2="769.20" stroke="#5a6a96" stroke-width="3.3" stroke-dasharray="2.7 0.6" opacity="0.68"/><line x1="383.6" y1="769.20" x2="416.6" y2="769.20" stroke="#5a6a96" stroke-width="3.3" stroke-dasharray="2.7 0.6" opacity="0.63"/><line x1="430.0" y1="769.20" x2="468.0" y2="769.20" stroke="#5a6a96" stroke-width="3.3" stroke-dasharray="2.7 0.6" opacity="0.63"/><line x1="355.0" y1="778.40" x2="389.0" y2="778.40" stroke="#8f9ab3" stroke-width="3.3" stroke-dasharray="2.7 0.6" opacity="0.58"/><line x1="397.6" y1="778.40" x2="407.6" y2="778.40" stroke="#3d4f8a" stroke-width="3.3" stroke-dasharray="2.7 0.6" opacity="0.73"/><line x1="443.6" y1="778.40" x2="453.6" y2="778.40" stroke="#3d4f8a" stroke-width="3.3" stroke-dasharray="2.7 0.6" opacity="0.73"/><rect x="471.0" y="775.9" width="1.8" height="4.9" fill="#4e8a3c" opacity="0.93"/><rect x="345" y="782.7" width="141" height="9.4" fill="#ecf4fb"/><line x1="355.0" y1="787.40" x2="385.0" y2="787.40" stroke="#8f9ab3" stroke-width="3.3" stroke-dasharray="2.7 0.6" opacity="0.58"/><line x1="397.6" y1="787.40" x2="405.6" y2="787.40" stroke="#3d4f8a" stroke-width="3.3" stroke-dasharray="2.7 0.6" opacity="0.73"/><line x1="443.6" y1="787.40" x2="450.6" y2="787.40" stroke="#3d4f8a" stroke-width="3.3" stroke-dasharray="2.7 0.6" opacity="0.73"/><rect x="471.0" y="784.9" width="1.8" height="4.9" fill="#b9d98a" opacity="0.93"/><line x1="355.0" y1="797.70" x2="393.0" y2="797.70" stroke="#8f9ab3" stroke-width="3.3" stroke-dasharray="2.7 0.6" opacity="0.58"/><rect x="397.6" y="796.0" width="5.0" height="3.3" fill="#3d4f8a" opacity="0.73"/><rect x="443.6" y="796.0" width="4.0" height="3.3" fill="#3d4f8a" opacity="0.73"/><rect x="471.0" y="795.2" width="1.8" height="4.9" fill="#d04a3a" opacity="0.93"/><rect x="345" y="802.5" width="141" height="9.4" fill="#ecf4fb"/><line x1="355.0" y1="807.20" x2="381.0" y2="807.20" stroke="#8f9ab3" stroke-width="3.3" stroke-dasharray="2.7 0.6" opacity="0.58"/><line x1="397.6" y1="807.20" x2="405.6" y2="807.20" stroke="#3d4f8a" stroke-width="3.3" stroke-dasharray="2.7 0.6" opacity="0.73"/><line x1="443.6" y1="807.20" x2="450.6" y2="807.20" stroke="#3d4f8a" stroke-width="3.3" stroke-dasharray="2.7 0.6" opacity="0.73"/><rect x="471.0" y="804.8" width="1.8" height="4.9" fill="#3f8a3c" opacity="0.93"/><line x1="355.0" y1="816.80" x2="381.0" y2="816.80" stroke="#8f9ab3" stroke-width="3.3" stroke-dasharray="2.7 0.6" opacity="0.58"/><line x1="397.6" y1="816.80" x2="407.6" y2="816.80" stroke="#3d4f8a" stroke-width="3.3" stroke-dasharray="2.7 0.6" opacity="0.73"/><line x1="443.6" y1="816.80" x2="453.6" y2="816.80" stroke="#3d4f8a" stroke-width="3.3" stroke-dasharray="2.7 0.6" opacity="0.73"/><rect x="471.0" y="814.3" width="1.8" height="4.9" fill="#3f7a3c" opacity="0.93"/><rect x="345" y="821.6" width="141" height="9.4" fill="#ecf4fb"/><line x1="355.0" y1="826.30" x2="381.0" y2="826.30" stroke="#8f9ab3" stroke-width="3.3" stroke-dasharray="2.7 0.6" opacity="0.58"/><line x1="397.6" y1="826.30" x2="407.6" y2="826.30" stroke="#3d4f8a" stroke-width="3.3" stroke-dasharray="2.7 0.6" opacity="0.73"/><line x1="443.6" y1="826.30" x2="453.6" y2="826.30" stroke="#3d4f8a" stroke-width="3.3" stroke-dasharray="2.7 0.6" opacity="0.73"/><rect x="471.0" y="823.8" width="1.8" height="4.9" fill="#3f7a3c" opacity="0.93"/><rect x="164.7" y="831.6" width="328.1" height="1" fill="#e6eef7"/><rect x="487.6" y="741.7" width="5.2" height="100" fill="#edf3fb"/><line x1="169.0" y1="838.70" x2="177.0" y2="838.70" stroke="#5877b0" stroke-width="3.1" stroke-dasharray="2.7 0.6" opacity="0.68"/><line x1="181.6" y1="838.90" x2="200.6" y2="838.90" stroke="#50608a" stroke-width="3.9" stroke-dasharray="2.7 0.6" opacity="0.68"/><rect x="167" y="846" width="114" height="7.8" fill="#e8f1fa"/><line x1="171.6" y1="849.80" x2="178.6" y2="849.80" stroke="#5a6a96" stroke-width="3.3" stroke-dasharray="2.7 0.6" opacity="0.68"/><line x1="196.0" y1="849.80" x2="230.0" y2="849.80" stroke="#5a6a96" stroke-width="3.3" stroke-dasharray="2.7 0.6" opacity="0.63"/><line x1="238.6" y1="849.80" x2="276.6" y2="849.80" stroke="#5a6a96" stroke-width="3.3" stroke-dasharray="2.7 0.6" opacity="0.68"/><line x1="171.6" y1="860.00" x2="197.6" y2="860.00" stroke="#8f9ab3" stroke-width="3.3" stroke-dasharray="2.7 0.6" opacity="0.58"/><line x1="211.0" y1="860.00" x2="221.0" y2="860.00" stroke="#3d4f8a" stroke-width="3.3" stroke-dasharray="2.7 0.6" opacity="0.68"/><line x1="249.0" y1="860.00" x2="260.0" y2="860.00" stroke="#3d4f8a" stroke-width="3.3" stroke-dasharray="2.7 0.6" opacity="0.68"/><rect x="274.2" y="857.5" width="2.0" height="4.9" fill="#6a9a4c" opacity="0.93"/><rect x="167" y="864.9" width="114" height="9.4" fill="#ecf4fb"/><line x1="171.6" y1="869.60" x2="201.6" y2="869.60" stroke="#8f9ab3" stroke-width="3.3" stroke-dasharray="2.7 0.6" opacity="0.58"/><line x1="211.0" y1="869.60" x2="218.0" y2="869.60" stroke="#3d4f8a" stroke-width="3.3" stroke-dasharray="2.7 0.6" opacity="0.68"/><line x1="249.0" y1="869.60" x2="256.0" y2="869.60" stroke="#3d4f8a" stroke-width="3.3" stroke-dasharray="2.7 0.6" opacity="0.68"/><rect x="274.2" y="867.1" width="2.0" height="4.9" fill="#6a9a4c" opacity="0.93"/><line x1="171.6" y1="880.30" x2="200.6" y2="880.30" stroke="#8f9ab3" stroke-width="3.3" stroke-dasharray="2.7 0.6" opacity="0.58"/><rect x="211.0" y="878.6" width="5.0" height="3.3" fill="#3d4f8a" opacity="0.68"/><rect x="249.0" y="878.6" width="5.0" height="3.3" fill="#3d4f8a" opacity="0.68"/><rect x="274.2" y="877.8" width="2.0" height="4.9" fill="#9cc070" opacity="0.93"/><rect x="167" y="885.5" width="114" height="9.4" fill="#ecf4fb"/><line x1="171.6" y1="890.20" x2="200.6" y2="890.20" stroke="#8f9ab3" stroke-width="3.3" stroke-dasharray="2.7 0.6" opacity="0.58"/><line x1="211.0" y1="890.20" x2="218.0" y2="890.20" stroke="#3d4f8a" stroke-width="3.3" stroke-dasharray="2.7 0.6" opacity="0.68"/><line x1="249.0" y1="890.20" x2="257.0" y2="890.20" stroke="#3d4f8a" stroke-width="3.3" stroke-dasharray="2.7 0.6" opacity="0.68"/><rect x="274.2" y="887.8" width="2.0" height="4.9" fill="#d0583a" opacity="0.93"/><line x1="171.6" y1="900.00" x2="194.6" y2="900.00" stroke="#8f9ab3" stroke-width="3.3" stroke-dasharray="2.7 0.6" opacity="0.58"/><line x1="211.0" y1="900.00" x2="230.0" y2="900.00" stroke="#3d4f8a" stroke-width="3.3" stroke-dasharray="2.7 0.6" opacity="0.68"/><line x1="249.0" y1="900.00" x2="269.0" y2="900.00" stroke="#3d4f8a" stroke-width="3.3" stroke-dasharray="2.7 0.6" opacity="0.68"/><rect x="274.2" y="897.5" width="2.0" height="4.9" fill="#d85a4a" opacity="0.93"/><rect x="167" y="905.3" width="114" height="9.4" fill="#ecf4fb"/><line x1="171.6" y1="910.00" x2="194.6" y2="910.00" stroke="#8f9ab3" stroke-width="3.3" stroke-dasharray="2.7 0.6" opacity="0.58"/><rect x="211.0" y="908.3" width="4.0" height="3.3" fill="#3d4f8a" opacity="0.68"/><rect x="249.0" y="908.3" width="5.0" height="3.3" fill="#3d4f8a" opacity="0.68"/><rect x="274.2" y="907.5" width="2.0" height="4.9" fill="#d04a4a" opacity="0.93"/><rect x="164.7" y="916.6" width="328.1" height="3" fill="#eaf1fa"/><rect x="284.6" y="833" width="0.8" height="84" fill="#e6edf6"/><rect x="388.6" y="833" width="0.8" height="84" fill="#e6edf6"/><rect x="291.0" y="836.5" width="6.0" height="4.3" fill="#8aa0c0" opacity="0.58"/><line x1="305.0" y1="838.90" x2="324.0" y2="838.90" stroke="#50608a" stroke-width="3.9" stroke-dasharray="2.7 0.6" opacity="0.68"/><rect x="287" y="846" width="96.6" height="7.8" fill="#e8f1fa"/><line x1="300.0" y1="849.70" x2="334.0" y2="849.70" stroke="#9aa6c0" stroke-width="3.1" stroke-dasharray="2.7 0.6" opacity="0.58"/><line x1="347.6" y1="849.80" x2="360.6" y2="849.80" stroke="#4d5f90" stroke-width="3.3" stroke-dasharray="2.7 0.6" opacity="0.68"/><line x1="294.0" y1="858.30" x2="312.0" y2="858.30" stroke="#8aa06a" stroke-width="2.7" stroke-dasharray="2.7 0.6" opacity="0.58"/><path d="M341.3,880.6 A15.8,15.8 0 1 0 311.6,888 L318.6,884.2 A7.9,7.9 0 1 1 333.4,880.6 Z" fill="#80bb3a"/><path d="M341.3,880.6 A15.8,15.8 0 0 1 311.6,888 L318.6,884.2 A7.9,7.9 0 0 0 333.4,880.6 Z" fill="#e7743d"/><rect x="373.6" y="868.6" width="2.4" height="2.4" fill="#8cc040"/><rect x="373.6" y="882.4" width="2.4" height="2.4" fill="#e8604a"/><line x1="351.6" y1="876.20" x2="379.6" y2="876.20" stroke="#8a8f9c" stroke-width="2.9" stroke-dasharray="2.7 0.6" opacity="0.58"/><line x1="351.6" y1="890.00" x2="379.6" y2="890.00" stroke="#8a8f9c" stroke-width="2.9" stroke-dasharray="2.7 0.6" opacity="0.58"/><line x1="331.0" y1="902.50" x2="356.0" y2="902.50" stroke="#b0a090" stroke-width="2.7" stroke-dasharray="2.7 0.6" opacity="0.58"/><rect x="287" y="908" width="96.6" height="8.4" fill="#ecf4fb"/><line x1="306.0" y1="912.10" x2="335.0" y2="912.10" stroke="#8a9ac0" stroke-width="3.1" stroke-dasharray="2.7 0.6" opacity="0.63"/><line x1="350.0" y1="912.20" x2="364.0" y2="912.20" stroke="#4d5f90" stroke-width="3.3" stroke-dasharray="2.7 0.6" opacity="0.68"/><rect x="384.4" y="846" width="3.6" height="71" fill="#d9dde3"/><rect x="384.9" y="851" width="2.6" height="38" fill="#f4f6f8"/><rect x="394.6" y="836.1" width="6.0" height="4.7" fill="#7a88a8" opacity="0.63"/><line x1="408.0" y1="838.90" x2="431.0" y2="838.90" stroke="#50608a" stroke-width="3.9" stroke-dasharray="2.7 0.6" opacity="0.68"/><rect x="391" y="846" width="92" height="7.8" fill="#e8f1fa"/><line x1="397.0" y1="849.70" x2="450.0" y2="849.70" stroke="#9aa6c0" stroke-width="3.1" stroke-dasharray="2.7 0.6" opacity="0.58"/><line x1="459.0" y1="849.80" x2="478.0" y2="849.80" stroke="#4d5f90" stroke-width="3.3" stroke-dasharray="2.7 0.6" opacity="0.68"/><rect x="395" y="892.4" width="86" height="0.8" fill="#d8dde6"/><rect x="406.8" y="864.4" width="16" height="28.2" fill="#e16a40"/><rect x="431" y="887" width="16.2" height="5.6" fill="#e06a3e"/><rect x="431" y="886" width="16.2" height="1.2" fill="#f3b496"/><rect x="456.9" y="869" width="16" height="23.6" fill="#f0a684"/><line x1="410.0" y1="858.40" x2="419.0" y2="858.40" stroke="#f0b090" stroke-width="2.5" stroke-dasharray="2.7 0.6" opacity="0.68"/><line x1="435.0" y1="881.40" x2="443.0" y2="881.40" stroke="#e8a080" stroke-width="2.5" stroke-dasharray="2.7 0.6" opacity="0.68"/><line x1="460.0" y1="863.40" x2="469.0" y2="863.40" stroke="#f4c8b0" stroke-width="2.5" stroke-dasharray="2.7 0.6" opacity="0.68"/><rect x="406.0" y="899.9" width="1.4" height="2.5" fill="#d94a3a" opacity="0.88"/><line x1="410.6" y1="901.30" x2="430.6" y2="901.30" stroke="#9a9a9a" stroke-width="2.7" stroke-dasharray="2.7 0.6" opacity="0.58"/><rect x="433.6" y="899.9" width="1.4" height="2.5" fill="#d94a3a" opacity="0.88"/><line x1="438.6" y1="901.30" x2="460.6" y2="901.30" stroke="#9a9a9a" stroke-width="2.7" stroke-dasharray="2.7 0.6" opacity="0.58"/><rect x="461.0" y="899.9" width="1.4" height="2.5" fill="#e89a7a" opacity="0.88"/><rect x="466.0" y="899.9" width="5.0" height="2.7" fill="#9a9a9a" opacity="0.58"/><rect x="391" y="908" width="92" height="8.4" fill="#ecf4fb"/><line x1="398.0" y1="912.10" x2="448.0" y2="912.10" stroke="#8a9ac0" stroke-width="3.1" stroke-dasharray="2.7 0.6" opacity="0.63"/><line x1="460.6" y1="912.20" x2="474.6" y2="912.20" stroke="#4d5f90" stroke-width="3.3" stroke-dasharray="2.7 0.6" opacity="0.68"/><rect x="483.8" y="846" width="3.6" height="71" fill="#d9dde3"/><rect x="484.3" y="851" width="2.6" height="30" fill="#f4f6f8"/></g><ellipse cx="864.9" cy="994.5" rx="118" ry="5.5" fill="#888" opacity="0.8" filter="url(#b5)"/><path d="M829.5,942 L900.2,942 L900.2,969.5 L925.9,994.5 Q926.9,998.6 922.9,998.6 L806.9,998.6 Q802.9,998.6 803.9,994.5 L829.5,969.5 Z" fill="url(#stand)"/><path d="M829.5,969.5 L900.2,969.5 L925.9,994.5 Q926.9,998.6 922.9,998.6 L806.9,998.6 Q802.9,998.6 803.9,994.5 Z" fill="url(#base)"/><rect x="829.5" y="943" width="70.8" height="3.4" fill="#9d9d9a" opacity="0.55"/><rect x="805.9" y="996.4" width="118" height="1.6" fill="#a9a9a5" opacity="0.8"/><rect x="689.5" y="728.5" width="351.3" height="214.9" rx="9" fill="#9a9a97"/><rect x="689.2" y="729.9" width="350.3" height="213.5" rx="9" fill="url(#bezel)"/><path d="M927.2,730.3 L1031.0,730.3 Q1039.5,730.3 1039.5,738.5 L1039.5,934.4 L1029.5,927.4 L1029.5,741.7 Z" fill="#4a4744" opacity="0.75"/><rect x="702.5" y="741.7" width="323.7" height="186.4" fill="#fdfeff"/><rect x="702.5" y="927.4" width="323.7" height="1.2" fill="#1d3557"/><circle cx="864.9" cy="735.2" r="0.9" fill="#3a3a3a"/><g filter="url(#b03)"><rect x="702.5" y="741.7" width="323.5" height="11.4" fill="#f7fafd"/><line x1="706.4" y1="746.90" x2="721.4" y2="746.90" stroke="#3b3f4a" stroke-width="3.9" stroke-dasharray="2.7 0.6" opacity="0.73"/><rect x="728.4" y="743.4" width="38.4" height="7.6" rx="1" fill="#fff" stroke="#c4cad4" stroke-width="0.5"/><line x1="731.9" y1="746.90" x2="751.9" y2="746.90" stroke="#5a6070" stroke-width="3.5" stroke-dasharray="2.7 0.6" opacity="0.63"/><rect x="763.4" y="745.3" width="1.2" height="2.9" fill="#333" opacity="0.88"/><line x1="775.0" y1="746.90" x2="790.0" y2="746.90" stroke="#3b3f4a" stroke-width="3.9" stroke-dasharray="2.7 0.6" opacity="0.73"/><rect x="799.4" y="743.4" width="42.6" height="7.6" rx="1" fill="#fff" stroke="#c4cad4" stroke-width="0.5"/><rect x="802.9" y="745.1" width="6.0" height="3.5" fill="#5a6070" opacity="0.63"/><rect x="838.6" y="745.3" width="1.2" height="2.9" fill="#333" opacity="0.88"/><line x1="846.0" y1="746.90" x2="862.0" y2="746.90" stroke="#3b3f4a" stroke-width="3.9" stroke-dasharray="2.7 0.6" opacity="0.73"/><rect x="872.0" y="743.4" width="52.0" height="7.6" rx="1" fill="#fff" stroke="#c4cad4" stroke-width="0.5"/><line x1="875.5" y1="746.90" x2="885.5" y2="746.90" stroke="#5a6070" stroke-width="3.5" stroke-dasharray="2.7 0.6" opacity="0.63"/><rect x="920.6" y="745.3" width="1.2" height="2.9" fill="#333" opacity="0.88"/><rect x="702.5" y="753.4" width="220.5" height="11.3" fill="#d6e9f8"/><line x1="707.0" y1="758.70" x2="722.0" y2="758.70" stroke="#4a6a9a" stroke-width="3.9" stroke-dasharray="2.7 0.6" opacity="0.68"/><line x1="816.0" y1="758.70" x2="831.0" y2="758.70" stroke="#4a6a9a" stroke-width="3.9" stroke-dasharray="2.7 0.6" opacity="0.68"/><rect x="812.4" y="753.4" width="0.8" height="88" fill="#e3ecf5"/><line x1="793.0" y1="767.90" x2="806.0" y2="767.90" stroke="#555" stroke-width="3.5" stroke-dasharray="2.7 0.6" opacity="0.63"/><line x1="903.0" y1="767.90" x2="917.0" y2="767.90" stroke="#555" stroke-width="3.5" stroke-dasharray="2.7 0.6" opacity="0.63"/><text opacity="0.999" x="719.4" y="791" font-size="17.6" font-weight="bold" fill="#333338" font-family="Liberation Sans, sans-serif" textLength="76.6" lengthAdjust="spacingAndGlyphs">9,772,871.21</text><text opacity="0.999" x="844.2" y="791" font-size="17.6" font-weight="bold" fill="#333338" font-family="Liberation Sans, sans-serif" textLength="40.6" lengthAdjust="spacingAndGlyphs">38,923</text><line x1="709.0" y1="803.00" x2="727.0" y2="803.00" stroke="#3c3c44" stroke-width="3.7" stroke-dasharray="2.7 0.6" opacity="0.73"/><line x1="709.0" y1="823.40" x2="727.0" y2="823.40" stroke="#3c3c44" stroke-width="3.7" stroke-dasharray="2.7 0.6" opacity="0.73"/><line x1="709.0" y1="811.50" x2="735.0" y2="811.50" stroke="#f0a07a" stroke-width="3.9" stroke-dasharray="2.7 0.6" opacity="0.68"/><line x1="742.6" y1="811.40" x2="751.0" y2="811.40" stroke="#e0603a" stroke-width="4.5" stroke-dasharray="2.7 0.6" opacity="0.88"/><line x1="755.0" y1="811.50" x2="781.6" y2="811.50" stroke="#ec8a62" stroke-width="3.9" stroke-dasharray="2.7 0.6" opacity="0.73"/><line x1="790.0" y1="811.50" x2="809.0" y2="811.50" stroke="#f2b496" stroke-width="3.9" stroke-dasharray="2.7 0.6" opacity="0.68"/><line x1="709.0" y1="832.50" x2="717.0" y2="832.50" stroke="#f0a07a" stroke-width="3.9" stroke-dasharray="2.7 0.6" opacity="0.68"/><line x1="742.6" y1="832.40" x2="751.0" y2="832.40" stroke="#e0603a" stroke-width="4.5" stroke-dasharray="2.7 0.6" opacity="0.88"/><line x1="755.0" y1="832.50" x2="781.6" y2="832.50" stroke="#ec8a62" stroke-width="3.9" stroke-dasharray="2.7 0.6" opacity="0.73"/><rect x="807.0" y="830.5" width="2.0" height="3.9" fill="#f2b496" opacity="0.68"/><line x1="818.0" y1="803.00" x2="836.0" y2="803.00" stroke="#3c3c44" stroke-width="3.7" stroke-dasharray="2.7 0.6" opacity="0.73"/><line x1="818.0" y1="823.40" x2="836.0" y2="823.40" stroke="#3c3c44" stroke-width="3.7" stroke-dasharray="2.7 0.6" opacity="0.73"/><line x1="819.0" y1="811.50" x2="832.0" y2="811.50" stroke="#a8c898" stroke-width="3.9" stroke-dasharray="2.7 0.6" opacity="0.73"/><line x1="853.6" y1="811.40" x2="861.6" y2="811.40" stroke="#4e8a44" stroke-width="4.5" stroke-dasharray="2.7 0.6" opacity="0.88"/><line x1="868.0" y1="811.50" x2="885.0" y2="811.50" stroke="#9cc488" stroke-width="3.9" stroke-dasharray="2.7 0.6" opacity="0.73"/><line x1="895.0" y1="811.50" x2="915.0" y2="811.50" stroke="#b8d4a8" stroke-width="3.9" stroke-dasharray="2.7 0.6" opacity="0.68"/><rect x="819.0" y="830.5" width="2.0" height="3.9" fill="#f0a07a" opacity="0.68"/><line x1="853.6" y1="832.40" x2="862.0" y2="832.40" stroke="#e0603a" stroke-width="4.5" stroke-dasharray="2.7 0.6" opacity="0.88"/><line x1="868.0" y1="832.50" x2="881.0" y2="832.50" stroke="#f0a07a" stroke-width="3.9" stroke-dasharray="2.7 0.6" opacity="0.73"/><rect x="913.0" y="830.5" width="2.0" height="3.9" fill="#f2b496" opacity="0.58"/><rect x="702.5" y="841.5" width="220.5" height="10.4" fill="#d6e9f8"/><line x1="707.0" y1="846.50" x2="736.0" y2="846.50" stroke="#4a6a9a" stroke-width="3.9" stroke-dasharray="2.7 0.6" opacity="0.68"/><rect x="839.6" y="842.6" width="21" height="8.2" fill="#c2dcf2"/><line x1="845.0" y1="846.60" x2="855.0" y2="846.60" stroke="#3a4a6a" stroke-width="3.7" stroke-dasharray="2.7 0.6" opacity="0.68"/><line x1="871.0" y1="846.60" x2="883.0" y2="846.60" stroke="#4a5a7a" stroke-width="3.7" stroke-dasharray="2.7 0.6" opacity="0.63"/><line x1="897.0" y1="846.60" x2="911.0" y2="846.60" stroke="#4a5a7a" stroke-width="3.7" stroke-dasharray="2.7 0.6" opacity="0.63"/><rect x="865.0" y="844.5" width="0.8" height="3.9" fill="#8aa" opacity="0.68"/><rect x="891.0" y="844.5" width="0.8" height="3.9" fill="#8aa" opacity="0.68"/><rect x="775.0" y="856.9" width="1.6" height="3.3" fill="#6aa0d8" opacity="0.78"/><line x1="779.6" y1="858.90" x2="794.6" y2="858.90" stroke="#3a3a44" stroke-width="3.5" stroke-dasharray="2.7 0.6" opacity="0.73"/><rect x="809.0" y="856.9" width="2.0" height="3.3" fill="#bbb" opacity="0.78"/><line x1="813.6" y1="858.90" x2="828.6" y2="858.90" stroke="#3a3a44" stroke-width="3.5" stroke-dasharray="2.7 0.6" opacity="0.73"/><line x1="903.0" y1="858.90" x2="918.0" y2="858.90" stroke="#555" stroke-width="3.5" stroke-dasharray="2.7 0.6" opacity="0.63"/><line x1="709.0" y1="870.10" x2="718.0" y2="870.10" stroke="#7a7f8c" stroke-width="3.5" stroke-dasharray="2.7 0.6" opacity="0.63"/><rect x="720" y="870.0" width="200" height="0.6" fill="#e6e9ee"/><line x1="709.0" y1="878.80" x2="718.0" y2="878.80" stroke="#7a7f8c" stroke-width="3.5" stroke-dasharray="2.7 0.6" opacity="0.63"/><rect x="720" y="878.7" width="200" height="0.6" fill="#e6e9ee"/><line x1="709.0" y1="887.50" x2="718.0" y2="887.50" stroke="#7a7f8c" stroke-width="3.5" stroke-dasharray="2.7 0.6" opacity="0.63"/><rect x="720" y="887.4" width="200" height="0.6" fill="#e6e9ee"/><line x1="709.0" y1="896.20" x2="718.0" y2="896.20" stroke="#7a7f8c" stroke-width="3.5" stroke-dasharray="2.7 0.6" opacity="0.63"/><rect x="720" y="896.1" width="200" height="0.6" fill="#e6e9ee"/><line x1="709.0" y1="904.90" x2="718.0" y2="904.90" stroke="#7a7f8c" stroke-width="3.5" stroke-dasharray="2.7 0.6" opacity="0.63"/><rect x="720" y="904.8" width="200" height="0.6" fill="#e6e9ee"/><line x1="709.0" y1="913.60" x2="718.0" y2="913.60" stroke="#7a7f8c" stroke-width="3.5" stroke-dasharray="2.7 0.6" opacity="0.63"/><rect x="720" y="913.5" width="200" height="0.6" fill="#e6e9ee"/><rect x="712.0" y="918.9" width="4.0" height="3.3" fill="#7a7f8c" opacity="0.58"/><path d="M724.2,884.8 C725.5,884.0 729.5,880.3 732.1,880.0 C734.7,879.8 737.3,883.0 740.0,883.2 C742.6,883.4 745.2,881.7 747.9,881.0 C750.5,880.2 753.1,875.8 755.8,878.8 C758.4,881.8 761.0,893.9 763.6,899.0 C766.3,904.1 768.8,912.6 771.5,909.4 C774.3,906.2 777.3,885.7 780.1,880.0 C782.8,874.4 785.3,876.2 788.0,875.6 C790.6,875.0 793.5,874.8 796.2,876.2 C798.8,877.7 801.4,880.9 804.1,884.1 C806.7,887.4 809.3,893.3 811.9,895.8 C814.6,898.3 817.2,896.5 819.8,899.3 C822.5,902.1 825.1,913.8 827.7,912.6 C830.4,911.3 833.0,896.5 835.6,892.0 C838.2,887.6 840.9,885.6 843.5,885.7 C846.1,885.8 848.7,894.2 851.4,892.7 C854.1,891.1 857.2,877.8 859.9,876.2 C862.7,874.7 865.2,880.5 867.8,883.2 C870.4,885.9 873.0,887.4 875.7,892.7 C878.4,897.9 881.5,915.4 884.2,914.8 C887.0,914.1 889.5,895.2 892.1,888.9 C894.8,882.6 897.4,877.3 900.0,876.9 C902.6,876.5 905.2,885.8 907.9,886.4 C910.6,886.9 914.7,881.1 916.1,880.0" fill="none" stroke="#7ab8e6" stroke-width="1"/><rect x="722.9" y="883.5" width="2.6" height="2.6" rx="0.6" fill="#4a9ad6"/><rect x="723.2" y="920.2" width="2" height="1.8" fill="#e05040"/><rect x="722.6" y="923.8" width="3.2" height="2.7" fill="#9a9aa0" opacity="0.58"/><rect x="730.8" y="878.7" width="2.6" height="2.6" rx="0.6" fill="#4a9ad6"/><rect x="731.1" y="920.2" width="2" height="1.8" fill="#e05040"/><rect x="730.5" y="923.8" width="3.2" height="2.7" fill="#9a9aa0" opacity="0.58"/><rect x="738.7" y="881.9" width="2.6" height="2.6" rx="0.6" fill="#4a9ad6"/><rect x="739.0" y="920.2" width="2" height="1.8" fill="#e05040"/><rect x="738.4" y="923.8" width="3.2" height="2.7" fill="#9a9aa0" opacity="0.58"/><rect x="746.6" y="879.7" width="2.6" height="2.6" rx="0.6" fill="#4a9ad6"/><rect x="746.9" y="920.2" width="2" height="1.8" fill="#e05040"/><rect x="746.3" y="923.8" width="3.2" height="2.7" fill="#9a9aa0" opacity="0.58"/><rect x="754.5" y="877.5" width="2.6" height="2.6" rx="0.6" fill="#4a9ad6"/><rect x="754.8" y="920.2" width="2" height="1.8" fill="#e05040"/><rect x="754.2" y="923.8" width="3.2" height="2.7" fill="#9a9aa0" opacity="0.58"/><rect x="762.3" y="897.7" width="2.6" height="2.6" rx="0.6" fill="#4a9ad6"/><rect x="762.6" y="920.2" width="2" height="1.8" fill="#e05040"/><rect x="762.0" y="923.8" width="3.2" height="2.7" fill="#9a9aa0" opacity="0.58"/><rect x="770.2" y="908.1" width="2.6" height="2.6" rx="0.6" fill="#4a9ad6"/><rect x="770.5" y="920.2" width="2" height="1.8" fill="#e05040"/><rect x="769.9" y="923.8" width="3.2" height="2.7" fill="#9a9aa0" opacity="0.58"/><rect x="778.8" y="878.7" width="2.6" height="2.6" rx="0.6" fill="#4a9ad6"/><rect x="779.1" y="920.2" width="2" height="1.8" fill="#e05040"/><rect x="778.5" y="923.8" width="3.2" height="2.7" fill="#9a9aa0" opacity="0.58"/><rect x="786.7" y="874.3" width="2.6" height="2.6" rx="0.6" fill="#4a9ad6"/><rect x="787.0" y="920.2" width="2" height="1.8" fill="#e05040"/><rect x="786.4" y="923.8" width="3.2" height="2.7" fill="#9a9aa0" opacity="0.58"/><rect x="794.9" y="875.0" width="2.6" height="2.6" rx="0.6" fill="#4a9ad6"/><rect x="795.2" y="920.2" width="2" height="1.8" fill="#e05040"/><rect x="794.6" y="923.8" width="3.2" height="2.7" fill="#9a9aa0" opacity="0.58"/><rect x="802.8" y="882.8" width="2.6" height="2.6" rx="0.6" fill="#4a9ad6"/><rect x="803.1" y="920.2" width="2" height="1.8" fill="#e05040"/><rect x="802.5" y="923.8" width="3.2" height="2.7" fill="#9a9aa0" opacity="0.58"/><rect x="810.6" y="894.5" width="2.6" height="2.6" rx="0.6" fill="#4a9ad6"/><rect x="810.9" y="920.2" width="2" height="1.8" fill="#e05040"/><rect x="810.3" y="923.8" width="3.2" height="2.7" fill="#9a9aa0" opacity="0.58"/><rect x="818.5" y="898.0" width="2.6" height="2.6" rx="0.6" fill="#4a9ad6"/><rect x="818.8" y="920.2" width="2" height="1.8" fill="#e05040"/><rect x="818.2" y="923.8" width="3.2" height="2.7" fill="#9a9aa0" opacity="0.58"/><rect x="826.4" y="911.3" width="2.6" height="2.6" rx="0.6" fill="#4a9ad6"/><rect x="826.7" y="920.2" width="2" height="1.8" fill="#e05040"/><rect x="826.1" y="923.8" width="3.2" height="2.7" fill="#9a9aa0" opacity="0.58"/><rect x="834.3" y="890.7" width="2.6" height="2.6" rx="0.6" fill="#4a9ad6"/><rect x="834.6" y="920.2" width="2" height="1.8" fill="#e05040"/><rect x="834.0" y="923.8" width="3.2" height="2.7" fill="#9a9aa0" opacity="0.58"/><rect x="842.2" y="884.4" width="2.6" height="2.6" rx="0.6" fill="#4a9ad6"/><rect x="842.5" y="920.2" width="2" height="1.8" fill="#e05040"/><rect x="841.9" y="923.8" width="3.2" height="2.7" fill="#9a9aa0" opacity="0.58"/><rect x="850.1" y="891.4" width="2.6" height="2.6" rx="0.6" fill="#4a9ad6"/><rect x="850.4" y="920.2" width="2" height="1.8" fill="#e05040"/><rect x="849.8" y="923.8" width="3.2" height="2.7" fill="#9a9aa0" opacity="0.58"/><rect x="858.6" y="875.0" width="2.6" height="2.6" rx="0.6" fill="#4a9ad6"/><rect x="858.9" y="920.2" width="2" height="1.8" fill="#e05040"/><rect x="858.3" y="923.8" width="3.2" height="2.7" fill="#9a9aa0" opacity="0.58"/><rect x="866.5" y="881.9" width="2.6" height="2.6" rx="0.6" fill="#4a9ad6"/><rect x="866.8" y="920.2" width="2" height="1.8" fill="#e05040"/><rect x="866.2" y="923.8" width="3.2" height="2.7" fill="#9a9aa0" opacity="0.58"/><rect x="874.4" y="891.4" width="2.6" height="2.6" rx="0.6" fill="#4a9ad6"/><rect x="874.7" y="920.2" width="2" height="1.8" fill="#e05040"/><rect x="874.1" y="923.8" width="3.2" height="2.7" fill="#9a9aa0" opacity="0.58"/><rect x="882.9" y="913.5" width="2.6" height="2.6" rx="0.6" fill="#4a9ad6"/><rect x="883.2" y="920.2" width="2" height="1.8" fill="#e05040"/><rect x="882.6" y="923.8" width="3.2" height="2.7" fill="#9a9aa0" opacity="0.58"/><rect x="890.8" y="887.6" width="2.6" height="2.6" rx="0.6" fill="#4a9ad6"/><rect x="891.1" y="920.2" width="2" height="1.8" fill="#e05040"/><rect x="890.5" y="923.8" width="3.2" height="2.7" fill="#9a9aa0" opacity="0.58"/><rect x="898.7" y="875.6" width="2.6" height="2.6" rx="0.6" fill="#4a9ad6"/><rect x="899.0" y="920.2" width="2" height="1.8" fill="#e05040"/><rect x="898.4" y="923.8" width="3.2" height="2.7" fill="#9a9aa0" opacity="0.58"/><rect x="906.6" y="885.1" width="2.6" height="2.6" rx="0.6" fill="#4a9ad6"/><rect x="906.9" y="920.2" width="2" height="1.8" fill="#e05040"/><rect x="906.3" y="923.8" width="3.2" height="2.7" fill="#9a9aa0" opacity="0.58"/><rect x="914.8" y="878.7" width="2.6" height="2.6" rx="0.6" fill="#4a9ad6"/><rect x="915.1" y="920.2" width="2" height="1.8" fill="#e05040"/><rect x="914.5" y="923.8" width="3.2" height="2.7" fill="#9a9aa0" opacity="0.58"/><rect x="722" y="920.8" width="197" height="0.7" fill="#e86a5a"/><rect x="923.4" y="753.4" width="0.8" height="174" fill="#dfe8f2"/><rect x="924.4" y="753.4" width="96.4" height="11.6" fill="#cfe6f6"/><line x1="928.0" y1="758.70" x2="943.0" y2="758.70" stroke="#3a6a8a" stroke-width="3.9" stroke-dasharray="2.7 0.6" opacity="0.68"/><line x1="978.0" y1="758.70" x2="992.0" y2="758.70" stroke="#3a6a8a" stroke-width="3.9" stroke-dasharray="2.7 0.6" opacity="0.68"/><line x1="1001.0" y1="758.70" x2="1016.0" y2="758.70" stroke="#3a6a8a" stroke-width="3.9" stroke-dasharray="2.7 0.6" opacity="0.68"/><rect x="975" y="765" width="0.7" height="162" fill="#e3ebf3"/><rect x="995" y="765" width="0.7" height="162" fill="#e3ebf3"/><rect x="924.4" y="886" width="50.6" height="12.2" fill="#d4e5f2"/><rect x="924.4" y="794.0" width="96.4" height="0.7" fill="#e3ebf3"/><rect x="924.4" y="817.0" width="96.4" height="0.7" fill="#e3ebf3"/><rect x="924.4" y="840.0" width="96.4" height="0.7" fill="#e3ebf3"/><rect x="924.4" y="863.0" width="96.4" height="0.7" fill="#e3ebf3"/><rect x="924.4" y="885.6" width="96.4" height="0.7" fill="#e3ebf3"/><rect x="924.4" y="898.4" width="96.4" height="0.7" fill="#e3ebf3"/><line x1="927.6" y1="770.40" x2="971.6" y2="770.40" stroke="#55585f" stroke-width="3.7" stroke-dasharray="2.7 0.6" opacity="0.63"/><line x1="927.6" y1="776.50" x2="965.6" y2="776.50" stroke="#55585f" stroke-width="3.7" stroke-dasharray="2.7 0.6" opacity="0.63"/><line x1="927.6" y1="782.60" x2="961.6" y2="782.60" stroke="#55585f" stroke-width="3.7" stroke-dasharray="2.7 0.6" opacity="0.63"/><line x1="927.6" y1="788.70" x2="941.6" y2="788.70" stroke="#55585f" stroke-width="3.7" stroke-dasharray="2.7 0.6" opacity="0.63"/><line x1="985.0" y1="779.45" x2="993.0" y2="779.45" stroke="#5a55a8" stroke-width="3.9" stroke-dasharray="2.7 0.6" opacity="0.73"/><line x1="1001.0" y1="779.45" x2="1018.0" y2="779.45" stroke="#4a4a52" stroke-width="3.9" stroke-dasharray="2.7 0.6" opacity="0.68"/><line x1="927.6" y1="799.40" x2="963.6" y2="799.40" stroke="#55585f" stroke-width="3.7" stroke-dasharray="2.7 0.6" opacity="0.63"/><line x1="927.6" y1="805.50" x2="973.6" y2="805.50" stroke="#55585f" stroke-width="3.7" stroke-dasharray="2.7 0.6" opacity="0.63"/><line x1="927.6" y1="811.60" x2="947.6" y2="811.60" stroke="#55585f" stroke-width="3.7" stroke-dasharray="2.7 0.6" opacity="0.63"/><line x1="982.0" y1="805.40" x2="993.0" y2="805.40" stroke="#5a55a8" stroke-width="3.9" stroke-dasharray="2.7 0.6" opacity="0.73"/><line x1="996.0" y1="805.40" x2="1018.0" y2="805.40" stroke="#4a4a52" stroke-width="3.9" stroke-dasharray="2.7 0.6" opacity="0.68"/><line x1="927.6" y1="822.40" x2="969.6" y2="822.40" stroke="#55585f" stroke-width="3.7" stroke-dasharray="2.7 0.6" opacity="0.63"/><line x1="927.6" y1="828.50" x2="963.6" y2="828.50" stroke="#55585f" stroke-width="3.7" stroke-dasharray="2.7 0.6" opacity="0.63"/><line x1="927.6" y1="834.60" x2="939.6" y2="834.60" stroke="#55585f" stroke-width="3.7" stroke-dasharray="2.7 0.6" opacity="0.63"/><line x1="982.0" y1="828.40" x2="993.0" y2="828.40" stroke="#5a55a8" stroke-width="3.9" stroke-dasharray="2.7 0.6" opacity="0.73"/><line x1="999.0" y1="828.40" x2="1018.0" y2="828.40" stroke="#4a4a52" stroke-width="3.9" stroke-dasharray="2.7 0.6" opacity="0.68"/><line x1="927.6" y1="845.40" x2="969.6" y2="845.40" stroke="#55585f" stroke-width="3.7" stroke-dasharray="2.7 0.6" opacity="0.63"/><line x1="927.6" y1="851.50" x2="973.6" y2="851.50" stroke="#55585f" stroke-width="3.7" stroke-dasharray="2.7 0.6" opacity="0.63"/><line x1="927.6" y1="857.60" x2="947.6" y2="857.60" stroke="#55585f" stroke-width="3.7" stroke-dasharray="2.7 0.6" opacity="0.63"/><line x1="985.0" y1="851.40" x2="993.0" y2="851.40" stroke="#5a55a8" stroke-width="3.9" stroke-dasharray="2.7 0.6" opacity="0.73"/><line x1="996.0" y1="851.40" x2="1018.0" y2="851.40" stroke="#4a4a52" stroke-width="3.9" stroke-dasharray="2.7 0.6" opacity="0.68"/><line x1="927.6" y1="868.40" x2="965.6" y2="868.40" stroke="#55585f" stroke-width="3.7" stroke-dasharray="2.7 0.6" opacity="0.63"/><line x1="927.6" y1="874.50" x2="963.6" y2="874.50" stroke="#55585f" stroke-width="3.7" stroke-dasharray="2.7 0.6" opacity="0.63"/><line x1="927.6" y1="880.60" x2="939.6" y2="880.60" stroke="#55585f" stroke-width="3.7" stroke-dasharray="2.7 0.6" opacity="0.63"/><line x1="982.0" y1="874.40" x2="993.0" y2="874.40" stroke="#5a55a8" stroke-width="3.9" stroke-dasharray="2.7 0.6" opacity="0.73"/><line x1="999.0" y1="874.40" x2="1018.0" y2="874.40" stroke="#4a4a52" stroke-width="3.9" stroke-dasharray="2.7 0.6" opacity="0.68"/><line x1="927.6" y1="891.40" x2="963.6" y2="891.40" stroke="#55585f" stroke-width="3.7" stroke-dasharray="2.7 0.6" opacity="0.63"/><line x1="927.6" y1="897.50" x2="955.6" y2="897.50" stroke="#55585f" stroke-width="3.7" stroke-dasharray="2.7 0.6" opacity="0.63"/><line x1="982.0" y1="894.35" x2="993.0" y2="894.35" stroke="#5a55a8" stroke-width="3.9" stroke-dasharray="2.7 0.6" opacity="0.73"/><line x1="996.0" y1="894.35" x2="1018.0" y2="894.35" stroke="#4a4a52" stroke-width="3.9" stroke-dasharray="2.7 0.6" opacity="0.68"/><line x1="927.6" y1="904.40" x2="967.6" y2="904.40" stroke="#55585f" stroke-width="3.7" stroke-dasharray="2.7 0.6" opacity="0.63"/><line x1="927.6" y1="910.50" x2="967.6" y2="910.50" stroke="#55585f" stroke-width="3.7" stroke-dasharray="2.7 0.6" opacity="0.63"/><line x1="927.6" y1="916.60" x2="955.6" y2="916.60" stroke="#55585f" stroke-width="3.7" stroke-dasharray="2.7 0.6" opacity="0.63"/><line x1="982.0" y1="910.40" x2="993.0" y2="910.40" stroke="#5a55a8" stroke-width="3.9" stroke-dasharray="2.7 0.6" opacity="0.73"/><line x1="999.0" y1="910.40" x2="1018.0" y2="910.40" stroke="#4a4a52" stroke-width="3.9" stroke-dasharray="2.7 0.6" opacity="0.68"/><rect x="1021.4" y="753.4" width="3.4" height="174" fill="#c9cdd3"/><rect x="1021.8" y="756" width="2.6" height="32" fill="#eef0f3"/><rect x="1021.8" y="791" width="2.6" height="30" fill="#dfe2e6"/><rect x="1025" y="741.7" width="1.2" height="186" fill="#4a9ad8"/><rect x="702.5" y="741.7" width="1.4" height="186" fill="#2a5a8a" opacity="0.5"/></g>
<text class="cjk" x="286.85" y="1030.10" font-size="15.4" letter-spacing="2.2" fill="#222">院长决策</text>
<text class="cjk" x="826.38" y="1030.10" font-size="15.4" letter-spacing="2.2" fill="#222">效益分析</text>
</svg>
<div class="ov">
<span style="left:927.1px;top:16.4px;font-size:36.6px;letter-spacing:-0.2px">产品架构</span>
<span style="left:128.7px;top:321.0px;font-size:18.0px;line-height:20.2px;width:18.0px;white-space:normal;word-break:break-all">统一管理门户</span>
<span style="left:186.9px;top:172.5px;font-size:14.4px;letter-spacing:0.0px">决策智能</span>
<span style="left:186.9px;top:340.9px;font-size:14.4px;letter-spacing:0.0px">运营管理</span>
<span style="left:186.9px;top:477.4px;font-size:14.4px;letter-spacing:0.0px">数据集成</span>
<span style="left:560.1px;top:159.0px;font-size:21.6px;letter-spacing:0.5px">决策智能化</span>
<span style="left:390.1px;top:191.8px;font-size:16.6px;letter-spacing:1.0px">综合评价</span>
<span style="left:510.2px;top:193.9px;font-size:17.2px;letter-spacing:0.4px">行为监管</span>
<span style="left:635.0px;top:193.9px;font-size:17.2px;letter-spacing:0.4px">预测预警</span>
<span style="left:762.3px;top:192.2px;font-size:16.6px;letter-spacing:1.0px">等级评审</span>
<span style="left:489px;top:252.7px;font-size:20.6px;letter-spacing:1.4px">医院运营管理平台（HRP）</span>
<span style="left:331.2px;top:290.3px;font-size:17.0px;letter-spacing:0.6px">人力资源管理</span>
<span style="left:323.2px;top:384.9px;font-size:12.8px;letter-spacing:0.0px">奖金核算</span>
<span style="left:389.9px;top:384.9px;font-size:12.8px;letter-spacing:0.0px">绩效考核</span>
<span style="left:356.6px;top:411.4px;font-size:12.8px;letter-spacing:0.0px">人力资源</span>
<span style="left:505.3px;top:290.3px;font-size:17.0px;letter-spacing:0.6px">财务管理</span>
<span style="left:481.3px;top:385.1px;font-size:12.8px;letter-spacing:0.0px">预算管理</span>
<span style="left:548.2px;top:385.1px;font-size:12.8px;letter-spacing:0.0px">财务管理</span>
<span style="left:514.9px;top:411.4px;font-size:12.8px;letter-spacing:0.0px">成本核算</span>
<span style="left:659.8px;top:290.3px;font-size:17.0px;letter-spacing:0.6px">物流管理</span>
<span style="left:636.2px;top:386.9px;font-size:12.8px;letter-spacing:0.0px">药品管理</span>
<span style="left:703.2px;top:386.9px;font-size:12.8px;letter-spacing:0.0px">资产管理</span>
<span style="left:669.8px;top:413.6px;font-size:12.8px;letter-spacing:0.0px">物资管理</span>
<span style="left:813.8px;top:290.3px;font-size:17.0px;letter-spacing:0.6px">行政管理</span>
<span style="left:790.7px;top:386.9px;font-size:12.8px;letter-spacing:0.0px">医务护理</span>
<span style="left:861.7px;top:386.9px;font-size:12.8px;letter-spacing:0.0px">办公OA</span>
<span style="left:824.6px;top:413.6px;font-size:12.8px;letter-spacing:0.0px">科教科研</span>
<span style="left:538.2px;top:493.8px;font-size:16.6px;letter-spacing:1.1px">医院信息集成平台</span>
<span style="left:741.7px;top:562.7px;font-size:14.4px;letter-spacing:0.0px">财务接口</span>
<span style="left:970.3px;top:194.5px;font-size:12.6px;letter-spacing:-0.6px">精细化管理为导向</span>
<span style="left:957.8px;top:345.3px;font-size:12.6px;letter-spacing:-0.6px">以运营管理为运用平台</span>
<span style="left:969.8px;top:491.4px;font-size:12.6px;letter-spacing:-0.6px">以集成平台为基础</span>
<span style="left:286.8px;top:1015.0px;font-size:15.4px;letter-spacing:2.2px">院长决策</span>
<span style="left:826.4px;top:1015.0px;font-size:15.4px;letter-spacing:2.2px">效益分析</span>
</div>
</body></html>
